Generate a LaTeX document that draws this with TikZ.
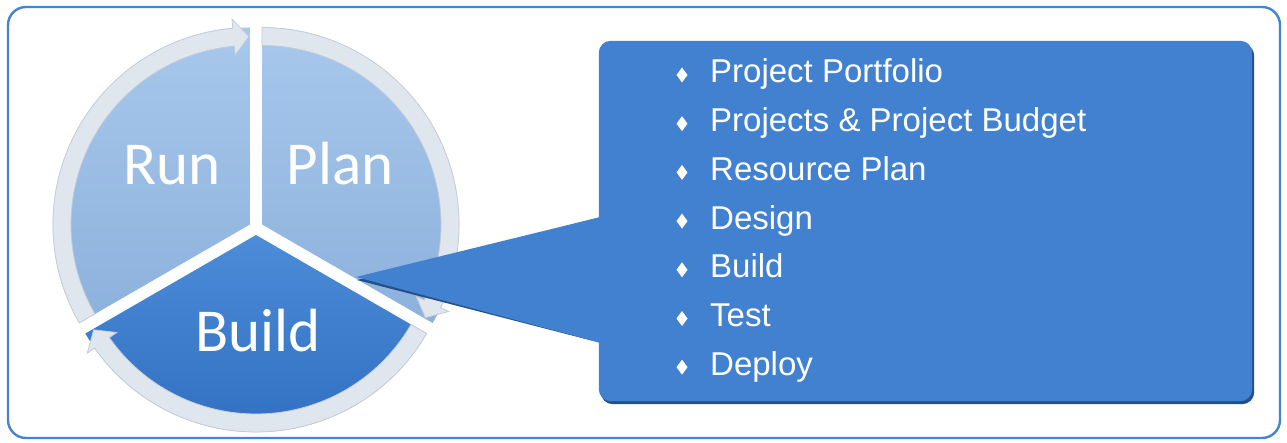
\documentclass[tikz,border=0pt]{standalone}
\usepackage{fontspec}
\setmainfont{Liberation Sans}
\newfontfamily\cyclefont{Carlito}

\definecolor{framebl}{HTML}{4584D4}
\definecolor{paleblue}{HTML}{A8C8EC}
\definecolor{paleblue2}{HTML}{8CB1DC}
\definecolor{deepblue}{HTML}{4C8CD8}
\definecolor{deepblue2}{HTML}{2E6BBE}
\definecolor{rimgray}{HTML}{E0E6EE}
\definecolor{rimedge}{HTML}{C3CCD9}
\definecolor{boxblue}{HTML}{4281CF}
\definecolor{boxshade}{HTML}{24508A}

% rim of one sector, clockwise from #1 to #2, arrow head at #2
\newcommand{\cyclerim}[2]{%
  \filldraw[fill=rimgray, draw=rimedge, line width=0.8]
    (#1:197) arc[start angle=#1, end angle=#2+5, radius=197]
    -- (#2+5:206) -- (#2+0.3:188) -- (#2+5:170) -- (#2+5:179)
    arc[start angle=#2+5, end angle=#1, radius=179] -- cycle;}

\begin{document}
\begin{tikzpicture}[x=1pt,y=1pt,
    lightsector/.style={top color=paleblue, bottom color=paleblue2},
    darksector/.style={top color=deepblue, bottom color=deepblue2},
    cyclelabel/.style={anchor=base, text=white, inner sep=0pt,
      font=\cyclefont\fontsize{61}{61}\selectfont},
    taskbox/.style={minimum width=653, minimum height=360, inner sep=0pt},
    task/.style={anchor=base west, text=white, inner sep=0pt,
      font=\fontsize{33}{33}\selectfont}]
  \useasboundingbox (0,0) rectangle (1287,443);
  \fill[white] (0,0) rectangle (1287,443);
  \node[draw=framebl, line width=2.4, rounded corners=18,
    minimum width=1272, minimum height=431] (frame) at (644,220.5) {};

  % the cycle
  \begin{scope}[shift={(256,215)}]
    \begin{scope}[shift={(150:7)}]
      \path[lightsector] (0,0) -- (210:197) arc[start angle=210, end angle=90, radius=197] -- cycle;
      \cyclerim{210}{90}
    \end{scope}
    \begin{scope}[shift={(30:7)}]
      \path[lightsector] (0,0) -- (90:197) arc[start angle=90, end angle=-30, radius=197] -- cycle;
      \cyclerim{90}{-30}
    \end{scope}
    \begin{scope}[shift={(270:7)}]
      \path[darksector] (0,0) -- (-30:197) arc[start angle=-30, end angle=-150, radius=197] -- cycle;
      \cyclerim{-30}{-150}
    \end{scope}
  \end{scope}
  \node[cyclelabel] (run) at (172,258) {Run};
  \node[cyclelabel] (plan) at (340,258) {Plan};
  \node[cyclelabel] (build) at (258,91) {Build};

  % callout with the build steps
  \node[taskbox] (tasks) at (925.5,222) {};
  \coordinate (tip) at (356,166);
  \fill[boxshade, rounded corners=12] ([shift={(2,-3)}]tasks.south west) rectangle ([shift={(2,-3)}]tasks.north east);
  \fill[boxshade] ([shift={(10,6)}]tasks.west) -- ([shift={(1,-3)}]tip) -- ([shift={(10,-124)}]tasks.west) -- cycle;
  \fill[boxblue, rounded corners=12] (tasks.south west) rectangle (tasks.north east);
  \fill[boxblue] ([shift={(10,6)}]tasks.west) -- (tip) -- ([shift={(10,-124)}]tasks.west) -- cycle;

  \foreach \task [count=\i, evaluate=\i as \y using 360-48.7*(\i-1)] in
      {Project Portfolio, Projects \& Project Budget, Resource Plan, Design, Build, Test, Deploy}{
    \coordinate (bullet\i) at (682,\y+8);
    \fill[white] (bullet\i) +(0,7.5) -- +(5.5,0) -- +(0,-7.5) -- +(-5.5,0) -- cycle;
    \node[task] (task\i) at (710,\y) {\task};
  }
\end{tikzpicture}
\end{document}
